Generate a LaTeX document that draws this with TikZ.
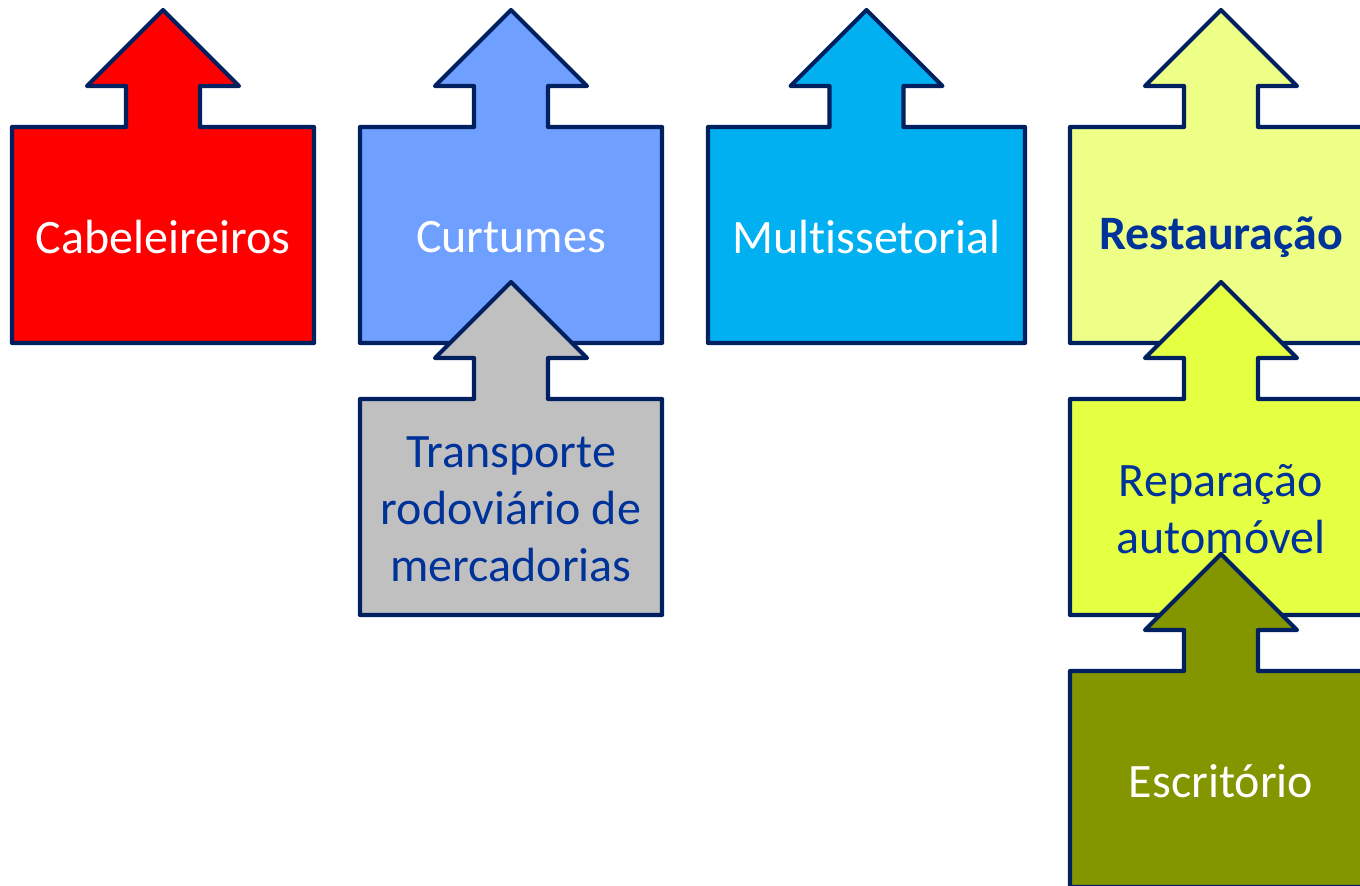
\documentclass[tikz,border=0pt]{standalone}
\usepackage{fontspec}
\setmainfont{Carlito}[Ligatures={NoCommon}]
\definecolor{outl}{HTML}{002060}
\definecolor{txtblue}{HTML}{003399}
\definecolor{cred}{HTML}{FF0000}
\definecolor{ccurt}{HTML}{6F9FFF}
\definecolor{cmulti}{HTML}{00B0F0}
\definecolor{crest}{HTML}{EEFF88}
\definecolor{crep}{HTML}{E5FF42}
\definecolor{cesc}{HTML}{839600}
\definecolor{cgray}{HTML}{C0C0C0}
% #1 cx, #2 box top, #3 half width, #4 fill
\newcommand\upbox[4]{%
  \filldraw[shapeline, fill=#4]
    (#1,#2-117) -- (#1+76,#2-41) -- (#1+37,#2-41) -- (#1+37,#2)
    -- (#1+#3,#2) -- (#1+#3,#2+216) -- (#1-#3,#2+216) -- (#1-#3,#2)
    -- (#1-37,#2) -- (#1-37,#2-41) -- (#1-76,#2-41) -- cycle;}
\begin{document}
\begin{tikzpicture}[x=1pt,y=-1pt,
  shapeline/.style={draw=outl, line width=4.2pt, line join=round},
  lbl/.style={font=\fontsize{48}{57}\selectfont, align=center, inner sep=0pt}]
\useasboundingbox (0,0) rectangle (1360,886);
\clip (0,0) rectangle (1360,886);
\upbox{163}{127}{151}{cred}
\node[lbl, text=white] (cab) at (163,237) {Cabeleireiros};
\upbox{511}{127}{151}{ccurt}
\node[lbl, text=white] (curt) at (511,237) {Curtumes};
\upbox{866.5}{127}{158.5}{cmulti}
\node[lbl, text=white] (multi) at (866.5,237) {Multissetorial};
\upbox{1221}{127}{151}{crest}
\node[lbl, text=txtblue, font=\fontsize{48}{57}\selectfont\bfseries] (rest) at (1221,237) {Restauração};
\upbox{511}{399}{151}{cgray}
\node[lbl, text=txtblue] (trans) at (511,509) {Transporte\\rodoviário de\\mercadorias};
\upbox{1221}{399}{151}{crep}
\node[lbl, text=txtblue] (rep) at (1221,509) {Reparação\\automóvel};
\upbox{1221}{671}{151}{cesc}
\node[lbl, text=white] (esc) at (1221,781) {Escritório};
\end{tikzpicture}
\end{document}
